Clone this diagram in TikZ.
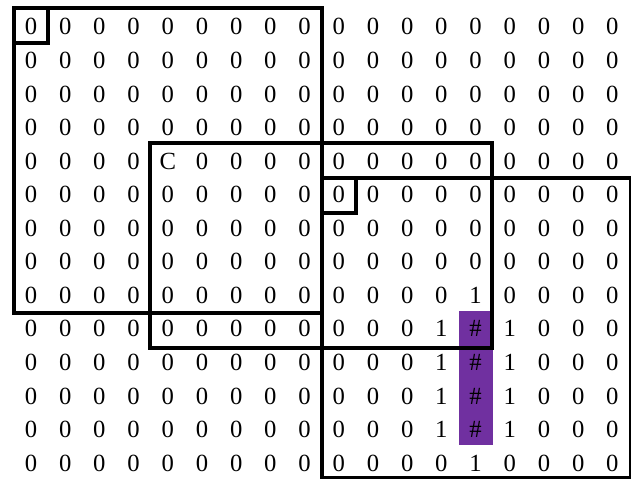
\documentclass[tikz,border=0pt]{standalone}
\usepackage{fontspec}
\setmainfont{Liberation Serif}
\definecolor{hl}{RGB}{112,48,160}
\begin{document}
\begin{tikzpicture}[x=0.75pt,y=-0.75pt,
  cell/.style={anchor=base,inner sep=0pt,font=\fontsize{18.5}{20}\selectfont},
  frame/.style={draw=black,line width=2.6pt},
  hlbox/.style={fill=hl}]
\useasboundingbox (0,0) rectangle (631,478);
\fill[white] (0,0) rectangle (631,478);
\fill[hlbox] (459,311) rectangle (493,445);
\foreach \row [count=\r] in {
  {0,0,0,0,0,0,0,0,0,0,0,0,0,0,0,0,0,0},
  {0,0,0,0,0,0,0,0,0,0,0,0,0,0,0,0,0,0},
  {0,0,0,0,0,0,0,0,0,0,0,0,0,0,0,0,0,0},
  {0,0,0,0,0,0,0,0,0,0,0,0,0,0,0,0,0,0},
  {0,0,0,0,C,0,0,0,0,0,0,0,0,0,0,0,0,0},
  {0,0,0,0,0,0,0,0,0,0,0,0,0,0,0,0,0,0},
  {0,0,0,0,0,0,0,0,0,0,0,0,0,0,0,0,0,0},
  {0,0,0,0,0,0,0,0,0,0,0,0,0,0,0,0,0,0},
  {0,0,0,0,0,0,0,0,0,0,0,0,0,1,0,0,0,0},
  {0,0,0,0,0,0,0,0,0,0,0,0,1,\#,1,0,0,0},
  {0,0,0,0,0,0,0,0,0,0,0,0,1,\#,1,0,0,0},
  {0,0,0,0,0,0,0,0,0,0,0,0,1,\#,1,0,0,0},
  {0,0,0,0,0,0,0,0,0,0,0,0,1,\#,1,0,0,0},
  {0,0,0,0,0,0,0,0,0,0,0,0,0,1,0,0,0,0}}
{
  \foreach \v [count=\c] in \row {
    \node[cell] (n\r-\c) at ({31+34.2*(\c-1)},{35+33.55*(\r-1)}) {\v};
  }
}
\draw[frame] (14,8) rectangle (322,313);
\draw[frame] (14,8) rectangle (48,43);
\draw[frame] (150,143) rectangle (492,348);
\draw[frame] (322,178) rectangle (631,478);
\draw[frame] (322,178) rectangle (356,213);
\end{tikzpicture}
\end{document}
